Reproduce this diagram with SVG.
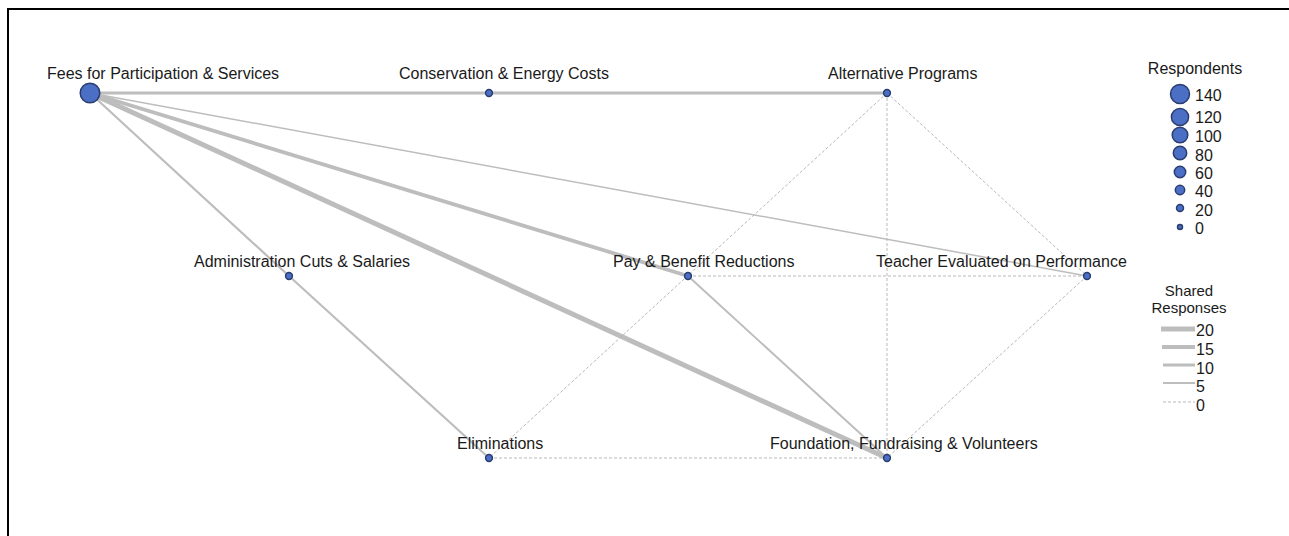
<svg xmlns="http://www.w3.org/2000/svg" width="1289" height="536" viewBox="0 0 1289 536">
<style>
.bg{fill:#ffffff}
.frame{fill:none;stroke:#000;stroke-width:2}
.e{stroke:#bdbdbd;fill:none;stroke-linecap:butt}
.d{stroke:#b8b8b8;stroke-width:1;stroke-dasharray:3,2;fill:none}
.n{fill:#4a6fc4;stroke:#2b3d70;stroke-width:1.5}
.t{font-family:"Liberation Sans",Arial,sans-serif;font-size:16px;fill:#1a1a1a}
.lt{font-family:"Liberation Sans",Arial,sans-serif;font-size:16px;fill:#1a1a1a}
.lh{font-family:"Liberation Sans",Arial,sans-serif;font-size:15px;fill:#1a1a1a}
</style>
<rect class="bg" x="0" y="0" width="1289" height="536"/>
<path class="frame" d="M8,536 V9 H1289"/>
<g id="connectors">
<line class="e" x1="90" y1="93" x2="887" y2="93" stroke-width="3"/>
<line class="e" x1="90" y1="93" x2="289" y2="276" stroke-width="2.2"/>
<line class="e" x1="289" y1="276" x2="489" y2="458" stroke-width="2.2"/>
<line class="e" x1="90" y1="93" x2="887" y2="458" stroke-width="5"/>
<line class="e" x1="90" y1="93" x2="688" y2="276" stroke-width="3.8"/>
<line class="e" x1="90" y1="93" x2="1087" y2="276" stroke-width="1.5"/>
<line class="e" x1="688" y1="276" x2="887" y2="458" stroke-width="2"/>
<line class="d" x1="887" y1="93" x2="489" y2="458"/>
<line class="d" x1="887" y1="93" x2="887" y2="458"/>
<line class="d" x1="887" y1="93" x2="1087" y2="276"/>
<line class="d" x1="688" y1="276" x2="1087" y2="276"/>
<line class="d" x1="1087" y1="276" x2="887" y2="458"/>
<line class="d" x1="489" y1="458" x2="887" y2="458"/>
</g>
<g id="node-fees"><circle class="n" cx="90" cy="93" r="9.8"/><text class="t" x="47" y="79">Fees for Participation &amp; Services</text></g>
<g id="node-conservation"><circle class="n" cx="489" cy="93" r="3.4"/><text class="t" x="399" y="79">Conservation &amp; Energy Costs</text></g>
<g id="node-alternative"><circle class="n" cx="887" cy="93" r="3.4"/><text class="t" x="828" y="79">Alternative Programs</text></g>
<g id="node-administration"><circle class="n" cx="289" cy="276" r="3.4"/><text class="t" x="194" y="267">Administration Cuts &amp; Salaries</text></g>
<g id="node-pay"><circle class="n" cx="688" cy="276" r="3.4"/><text class="t" x="613" y="267">Pay &amp; Benefit Reductions</text></g>
<g id="node-teacher"><circle class="n" cx="1087" cy="276" r="3.4"/><text class="t" x="876" y="267">Teacher Evaluated on Performance</text></g>
<g id="node-eliminations"><circle class="n" cx="489" cy="458" r="3.4"/><text class="t" x="457" y="449">Eliminations</text></g>
<g id="node-foundation"><circle class="n" cx="887" cy="458" r="3.4"/><text class="t" x="770" y="449">Foundation, Fundraising &amp; Volunteers</text></g>
<g id="legend-respondents">
<text class="lt" x="1195" y="74" text-anchor="middle">Respondents</text>
<circle class="n" cx="1180" cy="94" r="9.5"/><text class="lt" x="1195" y="101">140</text>
<circle class="n" cx="1180" cy="117" r="8.6"/><text class="lt" x="1195" y="123">120</text>
<circle class="n" cx="1180" cy="135" r="7.8"/><text class="lt" x="1195" y="142">100</text>
<circle class="n" cx="1180" cy="153" r="6.7"/><text class="lt" x="1195" y="161">80</text>
<circle class="n" cx="1180" cy="172" r="5.7"/><text class="lt" x="1195" y="179">60</text>
<circle class="n" cx="1180" cy="190" r="4.7"/><text class="lt" x="1195" y="197">40</text>
<circle class="n" cx="1180" cy="208" r="3.5"/><text class="lt" x="1195" y="216">20</text>
<circle class="n" cx="1180" cy="227" r="2.5"/><text class="lt" x="1195" y="234">0</text>
</g>
<g id="legend-shared">
<text class="lh" x="1189" y="296" text-anchor="middle">Shared</text>
<text class="lh" x="1189" y="313" text-anchor="middle">Responses</text>
<line class="e" x1="1161" y1="329" x2="1195" y2="329" stroke-width="5"/><text class="lt" x="1196" y="336">20</text>
<line class="e" x1="1162" y1="347" x2="1195" y2="347" stroke-width="3.8"/><text class="lt" x="1196" y="355">15</text>
<line class="e" x1="1163" y1="365" x2="1195" y2="365" stroke-width="3"/><text class="lt" x="1196" y="374">10</text>
<line class="e" x1="1163" y1="383" x2="1195" y2="383" stroke-width="2"/><text class="lt" x="1196" y="392">5</text>
<line class="d" x1="1163" y1="402" x2="1195" y2="402"/><text class="lt" x="1196" y="411">0</text>
</g>
</svg>
